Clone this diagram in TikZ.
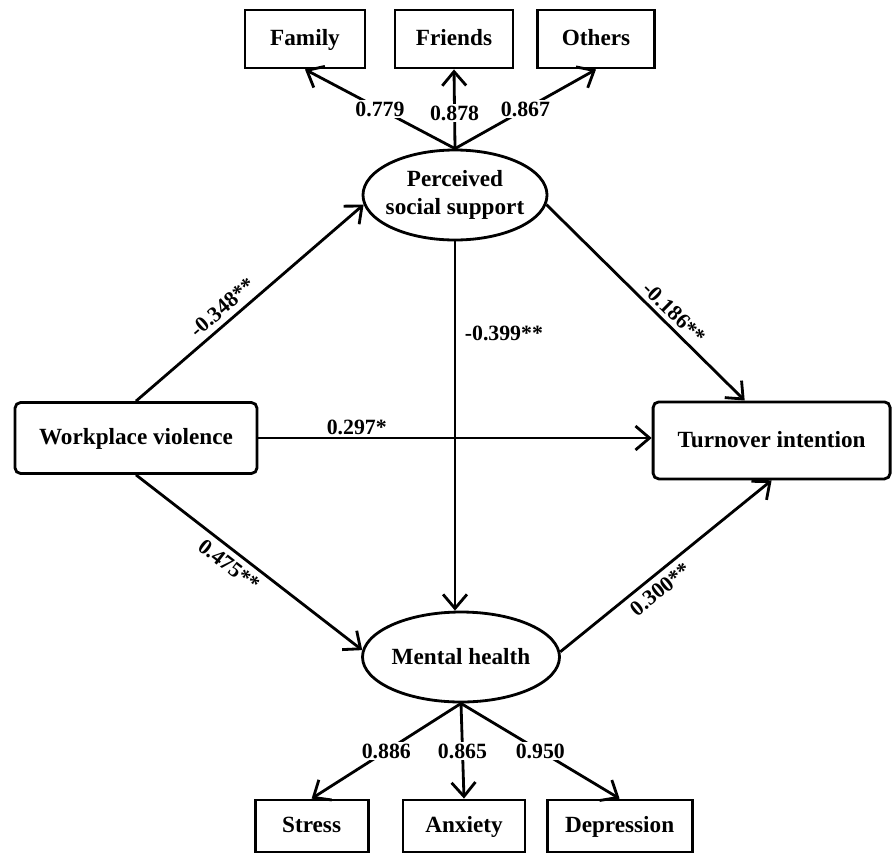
\documentclass[tikz,border=0pt]{standalone}
\usepackage{fontspec}
\setmainfont{Liberation Serif}
\usetikzlibrary{shapes.geometric,arrows.meta}

\begin{document}
\begin{tikzpicture}[
  every node/.style={font=\fontsize{16.5}{20}\selectfont\bfseries},
  box/.style={shape=rectangle, draw=black, line width=2pt, inner sep=0pt, minimum height=1.3cm, text height=2.5ex, text depth=0.45ex},
  latent/.style={shape=ellipse, draw=black, line width=2pt, inner sep=0pt, minimum width=4.7cm, minimum height=2.25cm, align=center},
  link/.style={-{Straight Barb[length=10pt,width=17pt]}, line width=2pt, draw=black},
  coef/.style={inner sep=2pt, font=\fontsize{15.5}{18}\selectfont\bfseries},
  load/.style={fill=white, inner sep=1pt, font=\fontsize{15.5}{18}\selectfont\bfseries}]
\useasboundingbox (0,0) rectangle (22.325,-21.3);
% indicators
\node[box, minimum width=3cm, minimum height=1.45cm] (Family) at (7.625,-0.975) {Family};
\node[box, minimum width=2.95cm, minimum height=1.45cm] (Friends) at (11.35,-0.975) {Friends};
\node[box, minimum width=2.925cm, minimum height=1.45cm] (Others) at (14.9,-0.975) {Others};
\node[box, minimum width=2.825cm] (Stress) at (7.79,-20.65) {Stress};
\node[box, minimum width=3.05cm] (Anxiety) at (11.6,-20.65) {Anxiety};
\node[box, minimum width=3.625cm] (Depression) at (15.49,-20.65) {Depression};
% latent variables
\node[latent, minimum width=4.6cm, inner xsep=-3pt] (PSS) at (11.375,-4.875) {Perceived\\social support};
\node[latent, minimum width=4.925cm] (MH) at (11.525,-16.425) {Mental health};
% observed variables
\node[box, rounded corners=4pt, minimum width=6.05cm, minimum height=1.775cm] (WV) at (3.4,-10.95) {Workplace violence};
\node[box, rounded corners=4pt, minimum width=5.925cm, minimum height=1.925cm] (TI) at (19.29,-11.01) {Turnover intention};
% loadings
\path (PSS.north) edge[link] node[load, pos=0.5] {0.779} (Family.south);
\path (PSS.north) edge[link] node[load, pos=0.45] {0.878} (Friends.south);
\path (PSS.north) edge[link] node[load, pos=0.5] {0.867} (Others.south);
\path (MH.south) edge[link] node[load, pos=0.5] {0.886} (Stress.north);
\path (MH.south) edge[link] node[load, pos=0.5] {0.865} (Anxiety.north);
\path (MH.south) edge[link] node[load, pos=0.5] {0.950} (Depression.north);
% structural paths
\path (WV.north) edge[link] node[coef, pos=0.42, sloped, above=2pt] {-0.348**} (PSS.186);
\path (PSS.354) edge[link] node[coef, pos=0.6, sloped, above=1pt] {-0.186**} (TI.124);
\path (WV.south) edge[link] node[coef, pos=0.45, sloped, below=2pt] {0.475**} (MH.176);
\path (MH.3) edge[link] node[coef, pos=0.43, sloped, below=2pt] {0.300**} (TI.south);
\path (WV.east) edge[link] node[coef, pos=0.25, above, inner sep=1pt] {0.297*} (WV.east -| TI.west);
\path (PSS.south) edge[link] node[coef, pos=0.25, right=4pt] {-0.399**} (PSS.south |- MH.north);
\end{tikzpicture}
\end{document}
